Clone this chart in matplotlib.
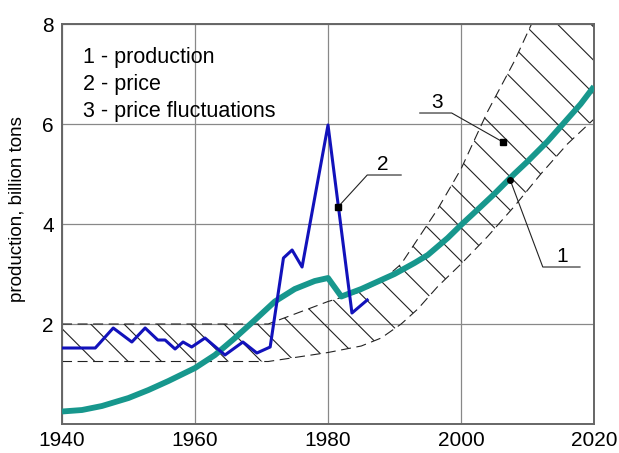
import matplotlib
matplotlib.use("Agg")
from matplotlib import pyplot as plt
import numpy as np

plt.rcParams['font.family'] = ['Liberation Sans', 'DejaVu Sans']
plt.rcParams['hatch.linewidth'] = 0.8

# production (curve 1), billion tons
prod_years = [1940, 1943, 1946, 1950, 1953, 1956, 1960, 1963, 1966, 1969, 1972,
              1975, 1978, 1980, 1982, 1985, 1988, 1990, 1993, 1995, 1998, 2000,
              2003, 2005, 2008, 2010, 2013, 2015, 2018, 2020]
prod_vals = [0.25, 0.28, 0.36, 0.52, 0.68, 0.86, 1.12, 1.38, 1.72, 2.08, 2.45,
             2.70, 2.86, 2.92, 2.55, 2.70, 2.88, 3.00, 3.22, 3.38, 3.72, 3.98,
             4.35, 4.60, 5.00, 5.25, 5.65, 5.95, 6.40, 6.75]

# price (curve 2)
price_years = [1940, 1945, 1947.7, 1950.5, 1952.5, 1954.4, 1955.5, 1957, 1958.2,
               1959.5, 1961.5, 1964.5, 1967.2, 1969.3, 1971.3, 1973.3, 1974.6,
               1976.1, 1980, 1983.6, 1985.9]
price_vals = [1.52, 1.52, 1.92, 1.64, 1.92, 1.68, 1.68, 1.50, 1.64,
              1.54, 1.72, 1.38, 1.64, 1.42, 1.54, 3.32, 3.48,
              3.14, 5.98, 2.22, 2.48]

# price fluctuation band (3)
band_years = [1940, 1971, 1975, 1980, 1985, 1988, 1991, 1993.5, 1996.5, 2000,
              2004, 2008, 2012, 2016, 2020]
band_low = [1.25, 1.25, 1.33, 1.43, 1.56, 1.72, 2.00, 2.30, 2.75, 3.20,
            3.75, 4.35, 5.00, 5.60, 6.10]
band_high = [2.00, 2.00, 2.20, 2.45, 2.65, 2.85, 3.20, 3.70, 4.30, 5.10,
             6.25, 7.25, 8.40, 9.40, 10.40]

legend_lines = ['1 - production', '2 - price', '3 - price fluctuations']

fig = plt.figure(figsize=(6.19, 4.53), dpi=100)
ax = fig.add_axes([0.1002, 0.064, 0.8594, 0.883])

ax.fill_between(band_years, band_low, band_high, facecolor='none',
                edgecolor='#222222', hatch='\\', linewidth=0, zorder=2)
ax.plot(band_years, band_low, color='#222222', lw=0.8, dashes=(9, 5), zorder=2)
ax.plot(band_years, band_high, color='#222222', lw=0.8, dashes=(9, 5), zorder=2)

ax.plot(prod_years, prod_vals, color='#17978d', lw=4.2, zorder=3,
        solid_capstyle='butt')
ax.plot(price_years, price_vals, color='#1212bb', lw=2.2, zorder=4)

# leader lines with numbers
ax.plot([1981.5, 1985.9, 1991.0], [4.34, 4.98, 4.98], color='#222222', lw=0.8, zorder=5)
ax.plot([1981.5], [4.34], 's', color='black', ms=4, zorder=6)
ax.text(1988.2, 5.08, '2', fontsize=15, ha='center', va='baseline')

ax.plot([1993.8, 1998.6, 2006.3], [6.22, 6.22, 5.64], color='#222222', lw=0.8, zorder=5)
ax.plot([2006.3], [5.64], 's', color='black', ms=4, zorder=6)
ax.text(1996.4, 6.32, '3', fontsize=15, ha='center', va='baseline')

ax.plot([2007.4, 2012.3, 2017.9], [4.88, 3.14, 3.14], color='#222222', lw=0.8, zorder=5)
ax.plot([2007.4], [4.88], 'o', color='black', ms=4, zorder=6)
ax.text(2015.2, 3.24, '1', fontsize=15, ha='center', va='baseline')

for txt, yv in zip(legend_lines, [7.22, 6.68, 6.14]):
    ax.text(1943.2, yv, txt, fontsize=15.5, va='baseline')

ax.set_xlim(1940, 2020)
ax.set_ylim(0, 8)
ax.set_xticks([1940, 1960, 1980, 2000, 2020])
ax.set_yticks([2, 4, 6, 8])
ax.tick_params(length=0, labelsize=15)
ax.tick_params(axis='x', pad=5)
ax.tick_params(axis='y', pad=6)
ax.grid(True, color='#888888', lw=0.9, zorder=1)
ax.set_axisbelow(True)
for s in ax.spines.values():
    s.set_color('#666666')
    s.set_linewidth(1.4)
ax.set_ylabel('production, billion tons', fontsize=13.5)
ax.yaxis.set_label_coords(-0.068, 0.5375)

fig.savefig('out.png', dpi=100)
